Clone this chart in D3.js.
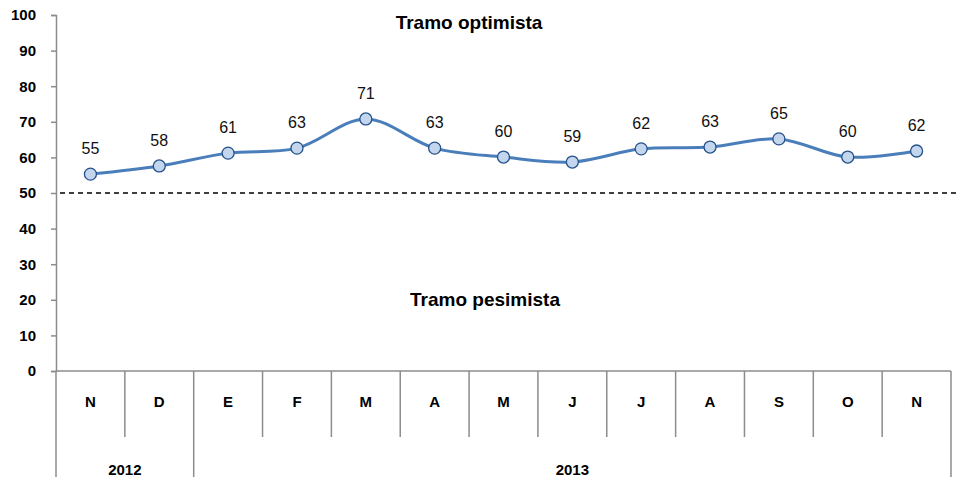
<!DOCTYPE html>
<html>
<head>
<meta charset="utf-8">
<script src="https://cdn.jsdelivr.net/npm/d3@7"></script>
<style>
  body { margin: 0; background: #fff; }
  svg { display: block; font-family: "Liberation Sans", Arial, sans-serif; }
</style>
</head>
<body>
<svg id="chart" width="959" height="477"></svg>
<script>
// months shown along the bottom, with the year group each belongs to
var months = ["N", "D", "E", "F", "M", "A", "M", "J", "J", "A", "S", "O", "N"];
var years = [{label: "2012", n: 2}, {label: "2013", n: 11}];
// index values (labels are rounded)
var values = [55.3, 57.6, 61.2, 62.6, 70.8, 62.6, 60.1, 58.7, 62.4, 62.9, 65.2, 60.1, 61.8];
var yTicks = [0, 10, 20, 30, 40, 50, 60, 70, 80, 90, 100];
var threshold = 50;

var svg = d3.select("#chart");
// note: "top" is reserved on window, so use plot* names
var plotLeft = 56, plotRight = 951, plotTop = 15, plotBase = 371;

var x = d3.scaleBand().domain(d3.range(months.length)).range([plotLeft, plotRight]).padding(0);
var y = d3.scaleLinear().domain([0, 100]).range([plotBase, plotTop]);

var axisColor = "#8c8c8c";

// y axis
var yAxis = svg.append("g").attr("transform", "translate(" + plotLeft + ",0)")
    .call(d3.axisLeft(y).tickValues(yTicks).tickSize(5).tickPadding(15));
yAxis.select(".domain").attr("stroke", axisColor).attr("stroke-width", 1.5);
yAxis.selectAll(".tick line").attr("stroke", axisColor).attr("stroke-width", 1.5);
yAxis.selectAll(".tick text").attr("font-size", 15).attr("font-weight", "bold")
    .attr("fill", "#000").attr("font-family", "Liberation Sans, Arial, sans-serif");

// bottom axis line
svg.append("line").attr("x1", plotLeft).attr("x2", plotRight).attr("y1", plotBase).attr("y2", plotBase)
    .attr("stroke", axisColor).attr("stroke-width", 1.5);

// month dividers and year dividers
var yearBounds = [0];
years.forEach(function(d){ yearBounds.push(yearBounds[yearBounds.length-1] + d.n); });

d3.range(months.length + 1).forEach(function(i){
    var xx = i < months.length ? x(i) : plotRight;
    var isYear = yearBounds.indexOf(i) >= 0;
    svg.append("line").attr("x1", xx).attr("x2", xx).attr("y1", plotBase)
        .attr("y2", isYear ? 477 : 437)
        .attr("stroke", axisColor).attr("stroke-width", 1.5);
});

// month labels
svg.selectAll(".month").data(months).enter().append("text")
    .attr("x", function(d,i){ return x(i) + x.bandwidth()/2; })
    .attr("y", 407)
    .attr("text-anchor", "middle")
    .attr("font-size", 15).attr("font-weight", "bold")
    .text(function(d){ return d; });

// year labels
svg.selectAll(".year").data(years).enter().append("text")
    .attr("x", function(d,i){
        var a = x(yearBounds[i]);
        var b = yearBounds[i+1] < months.length ? x(yearBounds[i+1]) : plotRight;
        return (a + b)/2;
    })
    .attr("y", 475)
    .attr("text-anchor", "middle")
    .attr("font-size", 15).attr("font-weight", "bold")
    .text(function(d){ return d.label; });

// threshold dashed line
svg.append("line").attr("x1", plotLeft + 4).attr("x2", 959)
    .attr("y1", y(threshold)).attr("y2", y(threshold))
    .attr("stroke", "#000").attr("stroke-width", 1.3).attr("stroke-dasharray", "5,4");

// zone labels
svg.append("text").attr("x", 469).attr("y", 29).attr("text-anchor", "middle")
    .attr("font-size", 19).attr("font-weight", "bold").text("Tramo optimista");
svg.append("text").attr("x", 485).attr("y", 306).attr("text-anchor", "middle")
    .attr("font-size", 19).attr("font-weight", "bold").text("Tramo pesimista");

// smoothed line
var line = d3.line()
    .x(function(d,i){ return x(i) + x.bandwidth()/2; })
    .y(function(d){ return y(d); })
    .curve(d3.curveCatmullRom.alpha(0.5));

svg.append("path").datum(values).attr("d", line)
    .attr("fill", "none").attr("stroke", "#4a7ebb").attr("stroke-width", 3);

// markers
svg.selectAll(".pt").data(values).enter().append("circle")
    .attr("cx", function(d,i){ return x(i) + x.bandwidth()/2; })
    .attr("cy", function(d){ return y(d); })
    .attr("r", 6)
    .attr("fill", "#c3d6ee").attr("stroke", "#24528a").attr("stroke-width", 1.3);

// value labels
svg.selectAll(".lbl").data(values).enter().append("text")
    .attr("x", function(d,i){ return x(i) + x.bandwidth()/2; })
    .attr("y", function(d){ return y(d) - 20; })
    .attr("text-anchor", "middle")
    .attr("font-size", 16).attr("fill", "#111")
    .text(function(d){ return d3.format(".0f")(d); });
</script>
</body>
</html>
